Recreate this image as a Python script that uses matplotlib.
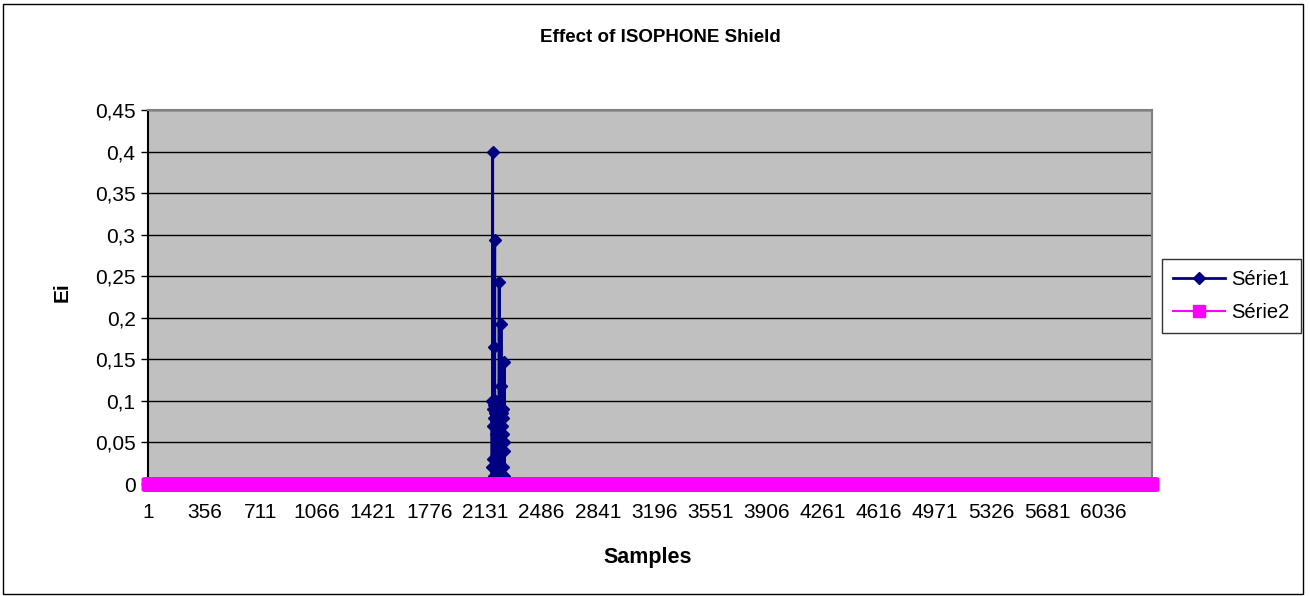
import numpy as np
import matplotlib.pyplot as plt
from matplotlib.patches import Rectangle

plt.rcParams['font.family'] = ['Liberation Sans', 'DejaVu Sans']

# ------------------------------
# DATA
# ------------------------------
n_samples = 6340
spike_start = 2172
spike_values = [0.1, 0.02, 0.0, 0.09, 0.4, 0.0, 0.07, 0.1, 0.0, 0.03, 0.165, 0.0,
                0.08, 0.01, 0.095, 0.0, 0.07, 0.293, 0.0, 0.09, 0.02, 0.085, 0.0,
                0.06, 0.1, 0.0, 0.09, 0.02, 0.08, 0.01, 0.075, 0.0, 0.09, 0.02,
                0.085, 0.0, 0.07, 0.01, 0.09, 0.0, 0.08, 0.02, 0.09, 0.0, 0.06,
                0.243, 0.0, 0.08, 0.01, 0.09, 0.0, 0.07, 0.02, 0.085, 0.0, 0.09,
                0.01, 0.193, 0.118, 0.0, 0.08, 0.02, 0.09, 0.0, 0.07, 0.01, 0.085,
                0.0, 0.09, 0.02, 0.08, 0.0, 0.06, 0.01, 0.05, 0.0, 0.04, 0.147, 0.0]

serie1 = np.zeros(n_samples)
serie1[spike_start:spike_start + len(spike_values)] = spike_values
serie2 = np.zeros(n_samples)

samples = np.arange(1, n_samples + 1)
tick_step = 355
y_ticks = [0, 0.05, 0.1, 0.15, 0.2, 0.25, 0.3, 0.35, 0.4, 0.45]
y_labels = ['0', '0,05', '0,1', '0,15', '0,2', '0,25', '0,3', '0,35', '0,4', '0,45']

# ------------------------------
# FIGURE
# ------------------------------
fig = plt.figure(figsize=(13.1, 5.96), dpi=100)
ax = fig.add_axes([148 / 1310, 112 / 596, 1004 / 1310, 374 / 596])
ax.set_facecolor('#C0C0C0')

ax.plot(samples, serie1, color='#000080', marker='D', markersize=6.5, lw=2,
        label='Série1', zorder=3, clip_on=False)
ax.plot(samples, serie2, color='#FF00FF', marker='s', markersize=8.5, lw=1.5,
        label='Série2', zorder=4, clip_on=False)

ax.set_xlim(0.5, n_samples + 0.5)
ax.set_ylim(0, 0.45)
ax.set_yticks(y_ticks)
ax.set_yticklabels(y_labels, fontsize=15)
xt = samples[::tick_step]
ax.set_xticks(xt)
ax.set_xticklabels([str(v) for v in xt], fontsize=15)
ax.tick_params(axis='x', length=0, pad=14)
ax.tick_params(axis='y', length=5, width=1, color='black', pad=4)

for y in y_ticks[1:]:
    ax.axhline(y, color='black', lw=1, zorder=1)

for side in ['top', 'right', 'left']:
    ax.spines[side].set_color('#808080')
    ax.spines[side].set_linewidth(1.5)
ax.spines['left'].set_color('black')
ax.spines['bottom'].set_color('black')

fig.text(660 / 1310, 1 - 37 / 596, 'Effect of ISOPHONE Shield', ha='center',
         va='center', fontsize=13.5, fontweight='bold')
fig.text(648 / 1310, 1 - 558 / 596, 'Samples', ha='center', va='center',
         fontsize=15.5, fontweight='bold')
fig.text(62 / 1310, 1 - 292 / 596, 'Ei', ha='center', va='center',
         fontsize=15, fontweight='bold', rotation=90)

leg = ax.legend(loc='center left', bbox_to_anchor=(1162 / 1310, 1 - 296 / 596),
                bbox_transform=fig.transFigure, fontsize=14.5, frameon=True,
                fancybox=False, edgecolor='black', handlelength=2.6,
                borderpad=0.55, labelspacing=0.7, handletextpad=0.3,
                borderaxespad=0)
leg.get_frame().set_linewidth(1)

fig.patches.append(Rectangle((0.002, 0.004), 0.993, 0.99, transform=fig.transFigure,
                             fill=False, edgecolor='black', lw=1))

fig.savefig('out.png', dpi=100)
